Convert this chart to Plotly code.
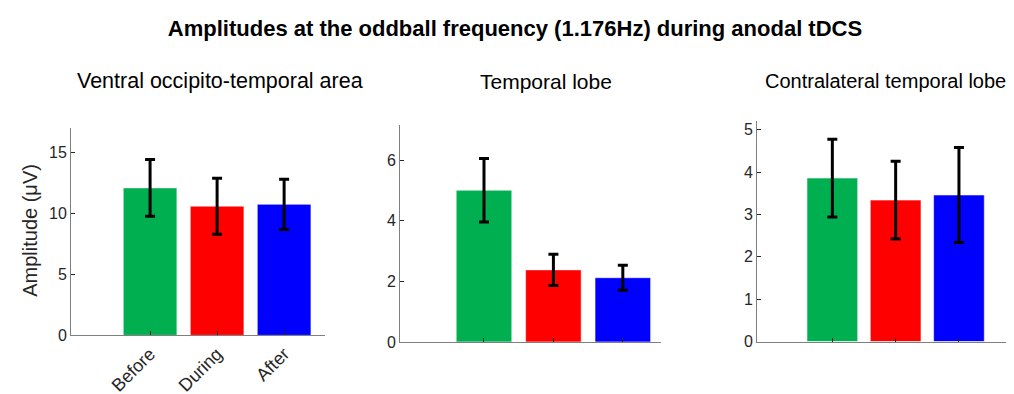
import plotly.graph_objects as go

# -----------------------------------------
# DATA
# -----------------------------------------
conditions = ["Before", "During", "After"]
bar_colors = ["#00B050", "#FF0000", "#0000FF"]

panel_titles = [
    "Ventral occipito-temporal area",
    "Temporal lobe",
    "Contralateral temporal lobe",
]

votc_mean = [12.1, 10.6, 10.75]
votc_err = [2.33, 2.3, 2.07]

temporal_mean = [5.01, 2.38, 2.12]
temporal_err = [1.05, 0.52, 0.41]

contra_mean = [3.86, 3.34, 3.46]
contra_err = [0.92, 0.92, 1.12]

means = [votc_mean, temporal_mean, contra_mean]
errs = [votc_err, temporal_err, contra_err]

# -----------------------------------------
# LAYOUT SETTINGS (pixel boxes measured from the reference)
# -----------------------------------------
W, H = 1014, 394
boxes = [  # left, right, top, bottom in px
    (63, 317, 123, 335),
    (392, 653, 120, 341.7),
    (749, 1013, 116, 341.3),
]
y_ranges = [[0, 17], [0, 7.16], [0, 5.2]]
x_ranges = [[-1.18, 2.61], [-1.21, 2.55], [-1.19, 2.98]]
y_ticks = [[0, 5, 10, 15], [0, 2, 4, 6], [0, 1, 2, 3, 4, 5]]
title_x = [212, 538, 877]
title_size = [21.5, 21, 20]

FONT = "Liberation Sans, Arial, Helvetica, sans-serif"
AXIS_COL = "#7f7f7f"
TEXT_COL = "#262626"

fig = go.Figure()

for i in range(3):
    sfx = "" if i == 0 else str(i + 1)
    fig.add_trace(
        go.Bar(
            x=conditions,
            y=means[i],
            width=0.8,
            marker=dict(color=bar_colors, line=dict(color="rgba(255,255,255,0.5)", width=1)),
            error_y=dict(type="data", array=errs[i], color="black", thickness=3, width=5),
            xaxis="x" + sfx,
            yaxis="y" + sfx,
            showlegend=False,
        )
    )

    l, r, t, b = boxes[i]
    fig.layout["xaxis" + sfx] = dict(
        domain=[l / W, r / W],
        anchor="y" + sfx,
        type="category",
        range=x_ranges[i],
        showline=True, linecolor=AXIS_COL, linewidth=1,
        ticks="inside", ticklen=4, tickcolor=TEXT_COL,
        showticklabels=(i == 0), tickangle=-45,
        tickfont=dict(family=FONT, size=18, color=TEXT_COL),
        showgrid=False, zeroline=False,
    )
    fig.layout["yaxis" + sfx] = dict(
        domain=[(H - b) / H, (H - t) / H],
        anchor="x" + sfx,
        range=y_ranges[i],
        tickvals=y_ticks[i],
        showline=True, linecolor=AXIS_COL, linewidth=1,
        ticks="inside", ticklen=4, tickcolor=TEXT_COL,
        tickfont=dict(family=FONT, size=16, color=TEXT_COL),
        showgrid=False, zeroline=False,
    )

    fig.add_annotation(
        text=panel_titles[i], x=title_x[i] / W, y=(H - 75) / H,
        xref="paper", yref="paper", showarrow=False,
        xanchor="center", yanchor="middle",
        font=dict(family=FONT, size=title_size[i], color="black"),
    )

# y axis label of the first panel
fig.add_annotation(
    text="Amplitude (μV)", x=22 / W, y=(H - 228) / H,
    xref="paper", yref="paper", showarrow=False, textangle=-90,
    xanchor="center", yanchor="middle",
    font=dict(family=FONT, size=20, color=TEXT_COL),
)

fig.update_layout(
    title=dict(
        text="<b>Amplitudes at the oddball frequency (1.176Hz) during anodal tDCS</b>",
        x=507 / W, xanchor="center", y=(H - 20) / H, yanchor="middle",
        font=dict(family=FONT, size=22, color="black"),
    ),
    width=W, height=H,
    margin=dict(l=0, r=0, t=0, b=0),
    paper_bgcolor="white",
    plot_bgcolor="white",
    bargap=0.2,
)

fig.write_html("out.html")
